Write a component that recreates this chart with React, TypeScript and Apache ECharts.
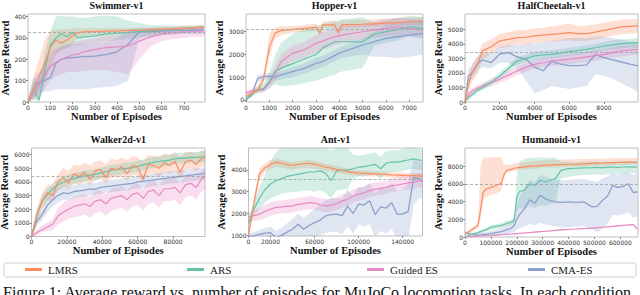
import React, { useEffect, useRef } from "react";
import * as echarts from "echarts";

const METHODS = ["LMRS", "ARS", "Guided ES", "CMA-ES"];
const COLORS = ["#fc8d62", "#66c2a5", "#e78ac3", "#8da0cb"];

// ---------------- Swimmer-v1 ----------------
const swimmerX = [0, 25, 50, 75, 100, 125, 150, 175, 200, 225, 250, 300, 350, 400, 450, 500, 550, 600, 650, 700, 750, 790];
const swimmerLMRS = [0, 60, 120, 180, 255, 290, 275, 290, 310, 325, 328, 330, 332, 333, 335, 336, 338, 340, 342, 345, 348, 350];
const swimmerLMRSLo = [0, 20, 60, 100, 160, 220, 240, 255, 275, 300, 310, 315, 318, 320, 322, 324, 326, 328, 330, 333, 335, 336];
const swimmerLMRSHi = [10, 120, 200, 290, 330, 340, 340, 340, 345, 345, 345, 345, 345, 346, 347, 348, 350, 352, 354, 356, 358, 360];
const swimmerARS = [0, 60, 10, 150, 265, 300, 320, 305, 325, 300, 305, 310, 318, 322, 325, 330, 333, 336, 340, 345, 348, 350];
const swimmerARSLo = [0, 10, 0, 80, 180, 230, 250, 250, 265, 265, 270, 275, 285, 290, 295, 300, 310, 315, 320, 325, 330, 335];
const swimmerARSHi = [20, 110, 80, 230, 330, 400, 405, 400, 400, 395, 395, 400, 405, 400, 380, 370, 360, 358, 358, 358, 358, 360];
const swimmerGES = [0, 40, 80, 125, 165, 185, 200, 210, 220, 225, 235, 245, 255, 258, 262, 285, 305, 318, 322, 328, 330, 333];
const swimmerGESLo = [0, 10, 30, 60, 100, 120, 130, 140, 140, 140, 145, 150, 150, 140, 130, 200, 260, 285, 295, 300, 305, 305];
const swimmerGESHi = [10, 80, 130, 190, 230, 250, 260, 270, 280, 285, 290, 300, 310, 315, 320, 340, 345, 348, 350, 350, 352, 355];
const swimmerCMA = [0, 60, 95, 100, 115, 180, 200, 205, 208, 210, 212, 215, 222, 235, 270, 330, 330, 332, 334, 335, 336, 337];
const swimmerCMALo = [0, 20, 40, 50, 50, 60, 60, 60, 60, 60, 60, 65, 70, 75, 100, 300, 310, 312, 315, 318, 320, 320];
const swimmerCMAHi = [10, 110, 140, 150, 180, 240, 260, 265, 270, 270, 272, 275, 280, 300, 340, 345, 345, 345, 346, 348, 350, 350];
const swimmerXTicks = [0, 100, 200, 300, 400, 500, 600, 700];
const swimmerYTicks = [0, 100, 200, 300, 400];

// ---------------- Hopper-v1 ----------------
const hopperX = [0, 250, 500, 750, 1000, 1250, 1500, 2000, 2500, 3000, 3170, 3300, 3800, 3960, 4100, 5000, 5500, 6000, 6500, 7000, 7590];
const hopperLMRS = [150, 300, 450, 900, 2300, 2950, 3050, 3100, 3150, 3200, 2950, 3300, 3300, 2950, 3300, 3330, 3350, 3380, 3400, 3440, 3450];
const hopperLMRSLo = [100, 200, 350, 700, 1900, 2700, 2850, 2950, 3000, 3050, 2850, 3150, 3150, 2850, 3150, 3200, 3220, 3250, 3280, 3300, 3300];
const hopperLMRSHi = [200, 400, 600, 1100, 2900, 3200, 3250, 3250, 3300, 3350, 3250, 3450, 3500, 3400, 3500, 3520, 3550, 3580, 3600, 3620, 3650];
const hopperARS = [50, 250, 440, 500, 800, 1250, 1400, 1600, 1800, 2000, 2150, 2300, 2550, 2560, 2560, 2550, 2900, 3000, 3100, 3220, 3150];
const hopperARSLo = [0, 150, 300, 350, 500, 700, 600, 650, 750, 850, 900, 950, 1100, 1200, 1250, 1400, 2400, 2500, 2600, 2800, 2700];
const hopperARSHi = [100, 350, 600, 700, 1200, 2000, 2500, 2900, 3100, 3200, 3300, 3350, 3450, 3500, 3550, 3650, 3400, 3500, 3600, 3700, 3650];
const hopperGES = [300, 400, 420, 450, 730, 1170, 1680, 2050, 2200, 2490, 2550, 2600, 2780, 2810, 2850, 3000, 3080, 3150, 3220, 3150, 3070];
const hopperGESLo = [200, 300, 320, 350, 500, 850, 1300, 1700, 1850, 2100, 2150, 2200, 2400, 2450, 2500, 2650, 2750, 2800, 2850, 2800, 2700];
const hopperGESHi = [400, 500, 520, 550, 950, 1500, 2000, 2400, 2550, 2850, 2950, 3000, 3150, 3200, 3250, 3350, 3450, 3550, 3600, 3600, 3500];
const hopperCMA = [0, 220, 950, 1020, 1050, 1000, 1100, 1245, 1390, 1610, 1650, 1700, 1950, 2050, 2100, 2415, 2560, 2710, 2780, 2850, 2930];
const hopperCMALo = [0, 150, 800, 900, 900, 850, 900, 1000, 1150, 1350, 1400, 1450, 1700, 1800, 1850, 2000, 1900, 1900, 1850, 1900, 2000];
const hopperCMAHi = [50, 300, 1100, 1150, 1200, 1150, 1250, 1450, 1600, 1850, 1900, 1950, 2200, 2300, 2350, 2700, 3000, 3300, 3400, 3500, 3550];
const hopperXTicks = [0, 1000, 2000, 3000, 4000, 5000, 6000, 7000];
const hopperYTicks = [0, 1000, 2000, 3000];

// ---------------- HalfCheetah-v1 ----------------
const cheetahX = [0, 200, 400, 700, 1000, 1500, 2000, 2500, 3000, 3500, 4000, 4500, 5000, 5500, 6000, 6500, 7000, 7500, 8000, 8500, 9000, 9500, 9960];
const cheetahLMRS = [0, 1200, 2000, 2500, 3500, 3800, 4200, 4300, 4430, 4450, 4540, 4600, 4650, 4700, 4770, 4700, 4700, 4800, 4930, 5050, 5160, 5200, 5230];
const cheetahLMRSLo = [0, 700, 1400, 1900, 2900, 3300, 3700, 3800, 3950, 3950, 4050, 4100, 4150, 4200, 4250, 4200, 4200, 4300, 4450, 4550, 4650, 4700, 4750];
const cheetahLMRSHi = [100, 1700, 2600, 3100, 4000, 4300, 4700, 4800, 4950, 4950, 5050, 5100, 5200, 5300, 5400, 5250, 5250, 5350, 5450, 5550, 5650, 5700, 5700];
const cheetahARS = [0, 300, 500, 800, 1000, 1350, 1790, 2300, 2820, 3000, 3165, 3230, 3280, 3370, 3460, 3540, 3620, 3730, 3850, 3930, 4010, 4050, 4080];
const cheetahARSLo = [0, 150, 350, 600, 800, 1150, 1550, 2050, 2550, 2750, 2900, 2950, 3000, 3100, 3200, 3250, 3350, 3450, 3550, 3650, 3700, 3750, 3750];
const cheetahARSHi = [100, 450, 650, 1000, 1200, 1550, 2050, 2550, 3100, 3250, 3450, 3500, 3550, 3650, 3750, 3800, 3900, 4000, 4150, 4250, 4300, 4350, 4400];
const cheetahGES = [0, 500, 750, 950, 1100, 1350, 1560, 1850, 2130, 2380, 2590, 2700, 2820, 2880, 2940, 3020, 3100, 3190, 3280, 3400, 3510, 3560, 3620];
const cheetahGESLo = [0, 300, 550, 750, 900, 1100, 1300, 1550, 1850, 2100, 2300, 2400, 2500, 2550, 2600, 2700, 2750, 2850, 2950, 3050, 3150, 3200, 3250];
const cheetahGESHi = [100, 700, 950, 1150, 1300, 1600, 1800, 2150, 2400, 2650, 2900, 3000, 3100, 3200, 3250, 3350, 3450, 3550, 3600, 3750, 3850, 3900, 3950];
const cheetahCMA = [0, 1800, 2000, 2600, 2900, 2700, 3300, 3400, 3100, 2950, 2400, 2150, 2800, 2600, 2500, 2500, 2550, 3250, 3050, 2900, 2750, 2600, 2480];
const cheetahCMALo = [0, 1300, 1600, 2100, 2400, 2300, 2700, 2700, 2300, 1500, 600, 800, 1100, 1000, 900, 1000, 1100, 1900, 1800, 1600, 1300, 1000, 700];
const cheetahCMAHi = [100, 2300, 2500, 3100, 3400, 3300, 3800, 3900, 3900, 4000, 4000, 4100, 4200, 4300, 4400, 4400, 4400, 4500, 4500, 4400, 4300, 4200, 4100];
const cheetahXTicks = [0, 2000, 4000, 6000, 8000];
const cheetahYTicks = [0, 1000, 2000, 3000, 4000, 5000];

// ---------------- Walker2d-v1 ----------------
const walkerX = [0, 3000, 6000, 9000, 12000, 15000, 18000, 21000, 24000, 27000, 30000, 33000, 36000, 39000, 42000, 45000, 48000, 51000, 54000, 57000, 60000, 63000, 66000, 69000, 72000, 75000, 78000, 81000, 84000, 87000, 90000, 93000, 96000, 98000];
const walkerLMRS = [0, 1500, 2600, 3200, 3000, 4000, 4300, 3900, 4600, 4400, 4700, 4200, 4800, 4900, 4300, 5000, 4900, 5100, 4600, 5200, 5100, 4200, 5300, 5200, 5000, 5400, 5200, 5500, 4700, 5500, 5600, 5300, 5700, 5800];
const walkerLMRSLo = [0, 1000, 2000, 2600, 2700, 3400, 3700, 3500, 3900, 3800, 4000, 3800, 4100, 4200, 3900, 4300, 4300, 4400, 4100, 4500, 4500, 3900, 4600, 4600, 4400, 4700, 4600, 4800, 4300, 4900, 5000, 4800, 5100, 5200];
const walkerLMRSHi = [200, 2000, 3200, 3800, 3800, 4600, 5000, 4800, 5300, 5200, 5400, 5200, 5500, 5600, 5300, 5700, 5600, 5800, 5600, 5900, 5800, 5500, 6000, 5900, 5800, 6100, 6000, 6200, 5800, 6200, 6200, 6100, 6300, 6300];
const walkerARS = [0, 1600, 2600, 3100, 3500, 3800, 4000, 4150, 4250, 4350, 4450, 4500, 4550, 4650, 4750, 4850, 4900, 4950, 5000, 5050, 5150, 5250, 5350, 5450, 5500, 5550, 5600, 5700, 5750, 5750, 5800, 5800, 5850, 5850];
const walkerARSLo = [0, 1200, 2200, 2700, 3100, 3400, 3600, 3750, 3850, 3950, 4050, 4100, 4150, 4250, 4350, 4450, 4500, 4550, 4600, 4650, 4750, 4850, 4950, 5050, 5100, 5150, 5200, 5300, 5350, 5350, 5400, 5400, 5450, 5450];
const walkerARSHi = [100, 2000, 3000, 3500, 3900, 4200, 4400, 4550, 4650, 4750, 4850, 4900, 4950, 5050, 5150, 5250, 5300, 5350, 5400, 5450, 5550, 5650, 5750, 5850, 5900, 5950, 6000, 6100, 6150, 6150, 6200, 6200, 6250, 6250];
const walkerGES = [0, 300, 500, 700, 900, 1500, 1800, 2000, 2200, 2300, 2400, 2200, 2600, 2700, 2400, 2800, 2900, 3000, 2700, 3100, 3200, 2800, 3300, 3400, 3000, 3500, 3500, 3600, 3200, 3800, 3900, 3600, 4200, 4400];
const walkerGESLo = [0, 100, 300, 400, 500, 900, 1100, 1300, 1400, 1500, 1600, 1400, 1700, 1800, 1500, 1900, 2000, 2100, 1800, 2200, 2300, 1900, 2400, 2500, 2100, 2600, 2600, 2700, 2300, 2900, 3000, 2700, 3300, 3500];
const walkerGESHi = [100, 500, 800, 1000, 1300, 2100, 2500, 2700, 2900, 3000, 3100, 2900, 3300, 3400, 3100, 3500, 3600, 3700, 3400, 3800, 3900, 3500, 4000, 4100, 3700, 4200, 4200, 4300, 3900, 4500, 4600, 4300, 4800, 5000];
const walkerCMA = [0, 1100, 1600, 2300, 2700, 3000, 3200, 3150, 3300, 3350, 3400, 3500, 3450, 3600, 3650, 3700, 3750, 3800, 3850, 3900, 4000, 4050, 4100, 4150, 4200, 4250, 4300, 4350, 4400, 4450, 4500, 4550, 4600, 4650];
const walkerCMALo = [0, 800, 1200, 1800, 2200, 2500, 2700, 2700, 2800, 2900, 2950, 3050, 3050, 3150, 3200, 3250, 3300, 3350, 3400, 3450, 3550, 3600, 3650, 3700, 3750, 3800, 3850, 3900, 3950, 4000, 4050, 4100, 4150, 4200];
const walkerCMAHi = [100, 1400, 2000, 2800, 3200, 3500, 3700, 3650, 3800, 3850, 3900, 3950, 3900, 4050, 4100, 4150, 4200, 4250, 4300, 4350, 4450, 4500, 4550, 4600, 4650, 4700, 4750, 4800, 4850, 4900, 4950, 5000, 5050, 5100];
const walkerXTicks = [0, 20000, 40000, 60000, 80000];
const walkerYTicks = [0, 1000, 2000, 3000, 4000, 5000, 6000];

// ---------------- Ant-v1 ----------------
const antX = [0, 5000, 10000, 15000, 20000, 25000, 30000, 35000, 40000, 45000, 50000, 55000, 60000, 65000, 70000, 75000, 80000, 85000, 90000, 95000, 100000, 105000, 110000, 115000, 120000, 125000, 130000, 135000, 140000, 145000, 150000, 155000, 158000];
const antLMRS = [1000, 2500, 3800, 4100, 4250, 4350, 4300, 4250, 4200, 4250, 4280, 4300, 4250, 4200, 4120, 4080, 4020, 3970, 3920, 3880, 3850, 3840, 3830, 3815, 3800, 3790, 3770, 3760, 3750, 3740, 3730, 3720, 3700];
const antLMRSLo = [950, 2200, 3550, 3900, 4050, 4150, 4100, 4050, 4000, 4050, 4080, 4100, 4050, 4000, 3950, 3920, 3860, 3820, 3780, 3750, 3720, 3710, 3700, 3690, 3680, 3670, 3650, 3640, 3630, 3620, 3610, 3600, 3590];
const antLMRSHi = [1050, 2800, 4050, 4300, 4450, 4500, 4450, 4400, 4350, 4400, 4420, 4450, 4400, 4350, 4280, 4230, 4170, 4120, 4060, 4010, 3980, 3970, 3960, 3940, 3920, 3910, 3890, 3880, 3870, 3860, 3850, 3840, 3820];
const antARS = [1550, 2200, 2700, 3100, 3350, 3500, 3600, 3700, 3750, 3800, 3850, 3900, 3900, 3950, 3850, 3500, 3950, 3980, 4000, 4050, 4120, 4150, 4200, 4250, 4050, 4300, 4350, 4350, 4400, 4450, 4500, 4450, 4430];
const antARSLo = [1300, 1900, 2200, 2500, 2700, 2800, 2900, 2950, 3000, 3000, 3050, 3050, 3000, 3050, 2950, 2700, 3050, 3100, 3100, 3600, 3700, 3700, 3750, 3800, 3600, 3850, 3900, 3900, 3950, 4000, 4050, 4000, 3980];
const antARSHi = [1800, 2500, 3200, 3800, 4400, 4800, 5000, 5000, 5000, 5000, 5000, 5000, 5000, 5000, 5000, 4900, 5000, 5000, 5000, 4700, 4650, 4700, 4750, 4800, 4600, 4850, 4900, 4900, 4950, 5000, 5000, 4950, 4900];
const antGES = [1850, 1900, 1970, 2100, 2200, 2280, 2300, 2330, 2350, 2420, 2450, 2500, 2480, 2400, 2350, 2380, 2450, 2580, 2650, 2800, 2890, 2950, 3050, 3120, 3150, 3200, 3280, 3300, 3350, 3400, 3430, 3500, 3510];
const antGESLo = [1650, 1650, 1700, 1800, 1900, 1980, 2000, 2030, 2050, 2120, 2150, 2200, 2180, 2100, 2050, 2080, 2150, 2280, 2350, 2500, 2590, 2650, 2750, 2820, 2850, 2900, 2980, 3000, 3050, 3100, 3130, 3200, 3210];
const antGESHi = [2050, 2150, 2250, 2400, 2500, 2580, 2600, 2630, 2650, 2720, 2750, 2800, 2780, 2700, 2650, 2680, 2750, 2880, 2950, 3100, 3190, 3250, 3350, 3420, 3450, 3500, 3600, 3650, 3700, 3750, 3800, 3850, 3850];
const antCMA = [950, 980, 1040, 1100, 1120, 890, 1000, 1150, 1280, 1510, 1280, 1450, 1580, 1700, 1890, 1950, 1970, 1900, 2350, 2000, 2430, 2400, 2580, 1950, 2300, 2250, 2500, 1970, 1970, 2100, 3660, 3580, 3450];
const antCMALo = [800, 800, 800, 800, 750, 600, 650, 700, 750, 900, 700, 800, 900, 1000, 1100, 1150, 1150, 1050, 1400, 1100, 1500, 1400, 1500, 900, 1200, 1100, 1300, 800, 600, 700, 2400, 2700, 2700];
const antCMAHi = [1100, 1150, 1250, 1350, 1400, 1200, 1350, 1550, 1750, 2000, 1800, 2000, 2200, 2400, 2600, 2700, 2700, 2650, 3100, 2800, 3200, 3200, 3400, 2900, 3200, 3100, 3400, 3000, 3100, 3400, 4500, 4400, 4300];
const antXTicks = [0, 20000, 60000, 100000, 140000];
const antYTicks = [1000, 2000, 3000, 4000];

// ---------------- Humanoid-v1 ----------------
const humanoidX = [0, 25000, 50000, 60000, 70000, 80000, 100000, 120000, 140000, 150000, 160000, 180000, 190000, 200000, 210000, 230000, 250000, 270000, 290000, 310000, 330000, 350000, 370000, 400000, 430000, 460000, 490000, 510000, 530000, 550000, 570000, 590000, 610000, 630000, 650000, 665000];
const humanoidLMRS = [300, 800, 1300, 3000, 5000, 5400, 5600, 5800, 6050, 7000, 7500, 7650, 7750, 7800, 7850, 7900, 7950, 8000, 8050, 8100, 8100, 8150, 8150, 8200, 8220, 8250, 8300, 8320, 8340, 8360, 8380, 8400, 8420, 8430, 8440, 8450];
const humanoidLMRSLo = [200, 600, 1000, 2000, 4000, 4500, 4700, 4900, 5200, 6500, 7200, 7350, 7450, 7500, 7550, 7600, 7650, 7700, 7750, 7800, 7800, 7850, 7850, 7900, 7920, 7950, 8000, 8020, 8040, 8060, 8080, 8100, 8120, 8130, 8140, 8150];
const humanoidLMRSHi = [400, 1000, 1600, 8000, 8900, 9000, 9000, 9000, 9000, 8200, 8100, 8200, 8300, 8350, 8400, 8450, 8500, 8550, 8600, 8650, 8650, 8700, 8700, 8750, 8750, 8780, 8800, 8820, 8840, 8860, 8880, 8900, 8900, 8900, 8900, 8900];
const humanoidARS = [0, 300, 500, 600, 700, 800, 1100, 1200, 1300, 1400, 1500, 1700, 1880, 4500, 5100, 5300, 6000, 5800, 6400, 6200, 6400, 6600, 7500, 7700, 7750, 7800, 7820, 7850, 7800, 7870, 7890, 7850, 7890, 7900, 7880, 7900];
const humanoidARSLo = [0, 200, 350, 400, 500, 600, 800, 900, 1000, 1100, 1200, 1400, 1550, 2800, 3200, 3200, 3500, 3300, 3600, 3500, 3700, 3900, 6600, 6800, 6900, 7000, 7000, 7100, 7000, 7100, 7150, 7100, 7150, 7200, 7200, 7250];
const humanoidARSHi = [100, 400, 650, 800, 900, 1000, 1350, 1450, 1550, 1700, 1800, 2000, 2200, 7000, 8500, 8800, 9000, 8900, 9000, 8900, 9000, 8900, 8500, 8500, 8400, 8500, 8500, 8500, 8400, 8500, 8500, 8500, 8500, 8600, 8500, 8600];
const humanoidGES = [0, 50, 100, 110, 120, 140, 180, 220, 260, 280, 300, 340, 360, 380, 400, 450, 500, 550, 600, 650, 700, 750, 800, 850, 900, 950, 1000, 1050, 1100, 1150, 1200, 1250, 1300, 1350, 1400, 900];
const humanoidGESLo = [0, 0, 50, 60, 70, 90, 120, 160, 200, 220, 240, 280, 300, 320, 340, 390, 440, 490, 540, 590, 640, 690, 740, 790, 840, 890, 940, 990, 1040, 1090, 1140, 1190, 1240, 1290, 1340, 800];
const humanoidGESHi = [50, 100, 150, 160, 170, 190, 240, 280, 320, 340, 360, 400, 420, 440, 460, 510, 560, 610, 660, 710, 760, 810, 860, 910, 960, 1010, 1060, 1110, 1160, 1210, 1260, 1310, 1360, 1410, 1460, 1100];
const humanoidCMA = [500, 300, 200, 250, 300, 300, 400, 500, 600, 700, 800, 1000, 1300, 2000, 2500, 3200, 4200, 3800, 4700, 4300, 4100, 3950, 3900, 3950, 3900, 3950, 3400, 3450, 4100, 4600, 5800, 5600, 5700, 6000, 5000, 5100];
const humanoidCMALo = [300, 150, 100, 100, 100, 100, 150, 200, 300, 350, 400, 500, 600, 800, 1000, 1200, 1500, 1300, 1600, 1400, 1300, 1200, 1100, 1100, 1200, 1200, 900, 500, 900, 1500, 2500, 2400, 2600, 2800, 2200, 2300];
const humanoidCMAHi = [700, 500, 400, 450, 500, 500, 700, 800, 1000, 1100, 1300, 1600, 2000, 3500, 4500, 5500, 6500, 6200, 7000, 6800, 6600, 6500, 6400, 6400, 6500, 6500, 6300, 6200, 6600, 6800, 7200, 7000, 7200, 7300, 7000, 7200];
const humanoidXTicks = [0, 100000, 200000, 300000, 400000, 500000, 600000];
const humanoidYTicks = [0, 2000, 4000, 6000, 8000];

const CAPTION = "Figure 1: Average reward vs. number of episodes for MuJoCo locomotion tasks. In each condition";

const panels = [
  {
    title: "Swimmer-v1", x: swimmerX,
    lines: [[swimmerLMRS, swimmerLMRSLo, swimmerLMRSHi], [swimmerARS, swimmerARSLo, swimmerARSHi], [swimmerGES, swimmerGESLo, swimmerGESHi], [swimmerCMA, swimmerCMALo, swimmerCMAHi]],
    xTicks: swimmerXTicks, yTicks: swimmerYTicks, threshold: 325,
    xMin: 0, xMax: 795, yMin: 0, yMax: 412,
    grid: { left: 28, top: 14, width: 177, height: 88 }, yGap: 13,
  },
  {
    title: "Hopper-v1", x: hopperX,
    lines: [[hopperLMRS, hopperLMRSLo, hopperLMRSHi], [hopperARS, hopperARSLo, hopperARSHi], [hopperGES, hopperGESLo, hopperGESHi], [hopperCMA, hopperCMALo, hopperCMAHi]],
    xTicks: hopperXTicks, yTicks: hopperYTicks, threshold: 3100,
    xMin: 0, xMax: 7590, yMin: -90, yMax: 3780,
    grid: { left: 246, top: 14, width: 177, height: 88 }, yGap: 18,
  },
  {
    title: "HalfCheetah-v1", x: cheetahX,
    lines: [[cheetahLMRS, cheetahLMRSLo, cheetahLMRSHi], [cheetahARS, cheetahARSLo, cheetahARSHi], [cheetahGES, cheetahGESLo, cheetahGESHi], [cheetahCMA, cheetahCMALo, cheetahCMAHi]],
    xTicks: cheetahXTicks, yTicks: cheetahYTicks, threshold: 3430,
    xMin: 0, xMax: 9960, yMin: 0, yMax: 6050,
    grid: { left: 465, top: 14, width: 173, height: 88 }, yGap: 18,
  },
  {
    title: "Walker2d-v1", x: walkerX,
    lines: [[walkerLMRS, walkerLMRSLo, walkerLMRSHi], [walkerARS, walkerARSLo, walkerARSHi], [walkerGES, walkerGESLo, walkerGESHi], [walkerCMA, walkerCMALo, walkerCMAHi]],
    xTicks: walkerXTicks, yTicks: walkerYTicks, threshold: 4400,
    xMin: 0, xMax: 98000, yMin: 0, yMax: 6490,
    grid: { left: 31.5, top: 148, width: 173.5, height: 88.5 }, yGap: 20,
  },
  {
    title: "Ant-v1", x: antX,
    lines: [[antLMRS, antLMRSLo, antLMRSHi], [antARS, antARSLo, antARSHi], [antGES, antGESLo, antGESHi], [antCMA, antCMALo, antCMAHi]],
    xTicks: antXTicks, yTicks: antYTicks, threshold: 3580,
    xMin: 0, xMax: 158000, yMin: 970, yMax: 5000,
    grid: { left: 248.5, top: 148, width: 174, height: 88 }, yGap: 19,
  },
  {
    title: "Humanoid-v1", x: humanoidX,
    lines: [[humanoidLMRS, humanoidLMRSLo, humanoidLMRSHi], [humanoidARS, humanoidARSLo, humanoidARSHi], [humanoidGES, humanoidGESLo, humanoidGESHi], [humanoidCMA, humanoidCMALo, humanoidCMAHi]],
    xTicks: humanoidXTicks, yTicks: humanoidYTicks, threshold: 6000,
    xMin: 0, xMax: 668000, yMin: 0, yMax: 10030,
    grid: { left: 465, top: 148, width: 173, height: 89 }, yGap: 18,
  },
];

const TICK_FONT = { fontFamily: "DejaVu Sans", fontSize: 6, color: "#333" };
const NAME_FONT = { fontFamily: "Liberation Serif", fontSize: 10.5, fontWeight: "bold" as const, color: "#111" };

function buildOption() {
  const grid: any[] = [];
  const xAxis: any[] = [];
  const yAxis: any[] = [];
  const series: any[] = [];
  const graphic: any[] = [];

  panels.forEach((p, i) => {
    grid.push({
      ...p.grid, show: true, borderColor: "#bdbdbd", borderWidth: 1,
      backgroundColor: "transparent", containLabel: false, outerBoundsMode: "none",
    });
    xAxis.push({
      type: "value", gridIndex: i, min: p.xMin, max: p.xMax,
      name: "Number of Episodes", nameLocation: "middle", nameGap: 8, nameTextStyle: NAME_FONT,
      axisLine: { show: false }, splitLine: { show: false },
      axisTick: { show: true, length: 2, customValues: p.xTicks, lineStyle: { color: "#444", width: 0.6 } },
      axisLabel: { show: true, margin: 2, customValues: p.xTicks, formatter: (v: number) => String(v), ...TICK_FONT },
    });
    yAxis.push({
      type: "value", gridIndex: i, min: p.yMin, max: p.yMax,
      name: "Average Reward", nameLocation: "middle", nameGap: p.yGap, nameTextStyle: NAME_FONT,
      axisLine: { show: false }, splitLine: { show: false },
      axisTick: { show: true, length: 2, customValues: p.yTicks, lineStyle: { color: "#444", width: 0.6 } },
      axisLabel: { show: true, margin: 2, customValues: p.yTicks, formatter: (v: number) => String(v), ...TICK_FONT },
    });

    // shaded bands: one polygon per method, drawn via the axes' own scales
    p.lines.forEach((ln, m) => {
      const [, lo, hi] = ln;
      series.push({
        type: "custom", name: `${METHODS[m]} band`, xAxisIndex: i, yAxisIndex: i,
        data: [[p.x[0], lo[0]]], encode: { x: 0, y: 1 },
        clip: true, silent: true, z: 1,
        renderItem: (_params: any, api: any) => {
          const pts: number[][] = [];
          for (let k = 0; k < p.x.length; k++) pts.push(api.coord([p.x[k], hi[k]]));
          for (let k = p.x.length - 1; k >= 0; k--) pts.push(api.coord([p.x[k], lo[k]]));
          return {
            type: "polygon",
            shape: { points: pts },
            style: { fill: COLORS[m], opacity: 0.28 },
          };
        },
      });
    });

    // mean lines (CMA-ES first, LMRS on top)
    [3, 2, 1, 0].forEach((m) => {
      const mean = p.lines[m][0];
      const s: any = {
        type: "line", name: METHODS[m], xAxisIndex: i, yAxisIndex: i,
        data: p.x.map((xv, k) => [xv, mean[k]]),
        symbol: "none", showSymbol: false, silent: true, z: 3,
        color: COLORS[m],
        lineStyle: { color: COLORS[m], width: m === 3 ? 1.3 : 1.2 },
        itemStyle: { color: COLORS[m] },
      };
      if (m === 0) {
        s.markLine = {
          silent: true, symbol: "none", label: { show: false },
          lineStyle: { color: "#a0a0a0", type: [3, 2], width: 0.8 },
          data: [{ yAxis: p.threshold }],
        };
      }
      series.push(s);
    });

    graphic.push({
      type: "text",
      x: p.grid.left + p.grid.width / 2,
      y: i < 3 ? 5 : 139.5,
      style: {
        text: p.title, font: 'bold 10px "Liberation Serif"', fill: "#111",
        align: "center", verticalAlign: "middle", textAlign: "center", textVerticalAlign: "middle",
      },
    });
  });

  graphic.push({
    type: "rect",
    shape: { x: 4, y: 263, width: 632, height: 14, r: 2 },
    style: { fill: "none", stroke: "#cfcfcf", lineWidth: 1 },
    silent: true,
  });
  graphic.push({
    type: "text", x: 3, y: 284,
    style: {
      text: CAPTION, font: '16px "Liberation Serif"', fill: "#111",
      align: "left", verticalAlign: "top", textAlign: "left", textVerticalAlign: "top",
    },
  });

  const legendLefts = [25, 187, 367, 528];
  const legend = METHODS.map((name, m) => ({
    data: [name], left: legendLefts[m], top: 264, padding: 0, itemGap: 0,
    itemWidth: 17, itemHeight: 3, icon: "rect", selectedMode: false,
    textStyle: { fontFamily: "Liberation Serif", fontSize: 11, color: "#222", padding: [0, 0, 0, 1] },
  }));

  return {
    animation: false,
    backgroundColor: "#ffffff",
    grid, xAxis, yAxis, series, graphic, legend,
  };
}

export default function App() {
  const ref = useRef<HTMLDivElement>(null);
  useEffect(() => {
    if (!ref.current) return;
    const chart = echarts.init(ref.current, undefined, { renderer: "svg" });
    chart.setOption(buildOption() as any);
    return () => chart.dispose();
  }, []);
  return (
    <div
      ref={ref}
      style={{ position: "absolute", left: 0, top: 0, width: 640, height: 295, background: "#fff" }}
    />
  );
}
